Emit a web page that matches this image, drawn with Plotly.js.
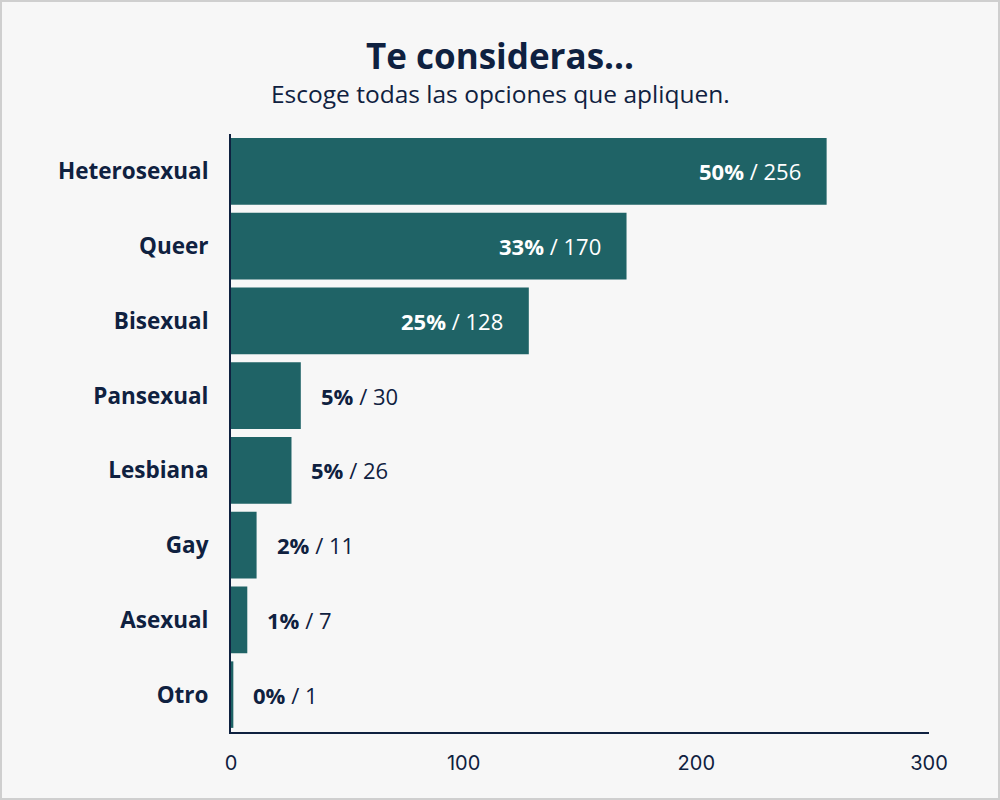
<!DOCTYPE html>
<html>
<head>
<meta charset="utf-8">
<script src="https://cdn.plot.ly/plotly-3.0.1.min.js"></script>
<style>
html,body{margin:0;padding:0;background:#f7f7f7;}
#chart{width:1000px;height:800px;box-sizing:border-box;border:2px solid #cfcfcf;}
</style>
</head>
<body>
<div id="chart"></div>
<script>
const categories = ["Heterosexual","Queer","Bisexual","Pansexual","Lesbiana","Gay","Asexual","Otro"];
const counts = [256,170,128,30,26,11,7,1];
const percents = [50,33,25,5,5,2,1,0];
const xTicks = [0,100,200,300];

const navy = "#0f2140";
const teal = "#1f6366";
const font = "'Open Sans', sans-serif";
const numFont = "Inter, 'Noto Sans', sans-serif";

const trace = {
  type: "bar",
  orientation: "h",
  y: categories,
  x: counts,
  marker: {color: teal},
  hoverinfo: "none"
};

const annotations = categories.map((c, i) => {
  const inside = counts[i] >= 100;
  return {
    x: counts[i], y: c, xref: "x", yref: "y",
    xanchor: inside ? "right" : "left",
    xshift: inside ? -24 : 18,
    showarrow: false,
    text: "<b>" + percents[i] + "%</b> <span style='font-family:" + numFont + ";font-size:17px'>/ " + counts[i] + "</span>",
    font: {family: font, size: 22, color: inside ? "#ffffff" : navy}
  };
});

// title block centred on the full page width
const pageCenter = (500 - 231) / 698;
annotations.push({
  xref: "paper", yref: "paper", x: pageCenter, y: 1, xanchor: "center", yanchor: "bottom",
  yshift: 53, showarrow: false,
  text: "<b>Te consideras...</b>",
  font: {family: font, size: 35, color: navy, weight: 800}
});
annotations.push({
  xref: "paper", yref: "paper", x: pageCenter, y: 1, xanchor: "center", yanchor: "bottom",
  yshift: 22, showarrow: false,
  text: "Escoge todas las opciones que apliquen.",
  font: {family: font, size: 24.5, color: navy}
});

const layout = {
  width: 996, height: 796,
  margin: {l: 229, r: 69, t: 132, b: 66},
  paper_bgcolor: "#f7f7f7",
  plot_bgcolor: "#f7f7f7",
  bargap: 0.11,
  showlegend: false,
  xaxis: {
    range: [0, 300],
    tickvals: xTicks,
    ticktext: xTicks.map(String),
    showgrid: false, zeroline: false,
    showline: true, linecolor: navy, linewidth: 2,
    ticks: "", ticklabelstandoff: 12,
    tickfont: {family: numFont, size: 20, color: navy},
    fixedrange: true
  },
  yaxis: {
    categoryorder: "array",
    categoryarray: categories.slice().reverse(),
    showgrid: false, zeroline: false,
    showline: true, linecolor: navy, linewidth: 2,
    ticks: "", ticklabelstandoff: 16,
    tickfont: {family: font, size: 22.5, color: navy, weight: "bold"},
    fixedrange: true
  },
  annotations: annotations
};

Plotly.newPlot("chart", [trace], layout, {displayModeBar: false, staticPlot: true});
</script>
</body>
</html>
